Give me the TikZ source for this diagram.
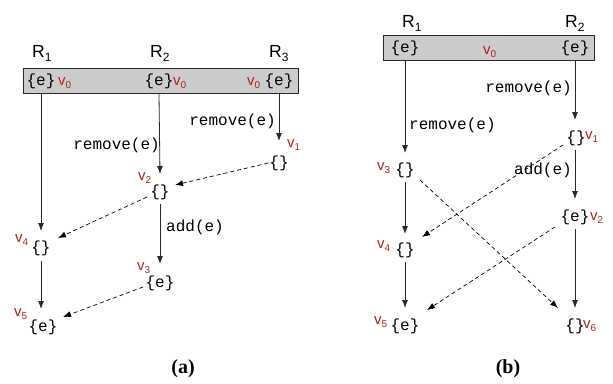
\documentclass[tikz,border=0pt]{standalone}
\usepackage{fontspec}
\setmainfont{Liberation Serif}
\setsansfont{Liberation Sans}
\setmonofont{Liberation Mono}
\usetikzlibrary{arrows.meta}
\definecolor{vred}{RGB}{175,35,30}
\definecolor{boxgray}{RGB}{204,204,204}
\definecolor{linegray}{RGB}{40,40,40}
\newcommand\mysb[1]{\raisebox{-0.4ex}{\fontsize{10}{10}\selectfont #1}}
\newcommand\myrsb[1]{\raisebox{-0.45ex}{\fontsize{12}{12}\selectfont #1}}
\begin{document}
\begin{tikzpicture}[x=1pt,y=-1pt,
  st/.style={font=\ttfamily\fontsize{16}{16}\selectfont, inner sep=1pt},
  op/.style={font=\ttfamily\fontsize{16}{16}\selectfont, inner sep=1pt},
  vl/.style={font=\sffamily\fontsize{15}{15}\selectfont, text=vred, inner sep=0pt, anchor=base west},
  rl/.style={font=\sffamily\fontsize{17.5}{17.5}\selectfont, inner sep=0pt, anchor=base west},
  captxt/.style={font=\bfseries\fontsize{20}{20}\selectfont, inner sep=0pt},
  grbox/.style={draw=linegray, fill=boxgray, line width=0.8pt},
  arr/.style={draw=linegray, -{Latex[length=8pt,width=6pt]}, line width=0.8pt},
  darr/.style={draw=black, -{Latex[length=8pt,width=6pt]}, line width=0.7pt, dash pattern=on 4pt off 3pt},
]
\path[use as bounding box] (0,0) rectangle (613,383);

% ---------------- panel (a) ----------------
\node[rl] (aR1) at (32,57) {R\myrsb{1}};
\node[rl] (aR2) at (150,57) {R\myrsb{2}};
\node[rl] (aR3) at (269,57) {R\myrsb{3}};
\node[grbox, minimum width=275pt, minimum height=25pt, inner sep=0pt] (abox) at (160.5,81) {};
\node[st] (a0a) at (41,81) {\{e\}};
\node[vl] (a0al) at (58,85) {v\mysb{0}};
\node[st] (a0b) at (159,81) {\{e\}};
\node[vl] (a0bl) at (173,85) {v\mysb{0}};
\node[vl] (a0cl) at (247,85) {v\mysb{0}};
\node[st] (a0c) at (279,81) {\{e\}};

\node[st] (a1) at (279,163) {\{\}};
\node[vl] (a1l) at (287,147) {v\mysb{1}};
\node[st] (a2) at (160,192) {\{\}};
\node[vl] (a2l) at (138,180) {v\mysb{2}};
\node[st] (a3) at (160,283) {\{e\}};
\node[vl] (a3l) at (137,270) {v\mysb{3}};
\node[st] (a4) at (41,248) {\{\}};
\node[vl] (a4l) at (15,242) {v\mysb{4}};
\node[st] (a5) at (43,327) {\{e\}};
\node[vl] (a5l) at (14,316) {v\mysb{5}};

\coordinate (a1t) at (279,141);
\coordinate (a2t) at (160,174);
\coordinate (a3t) at (160,264);
\coordinate (a4t) at (41,231);
\coordinate (a5t) at (41,309);
\coordinate (a2b) at (160,204);
\coordinate (a4b) at (41,261);

\draw[arr] (a0c |- abox.south) -- (a1t);
\node[op, anchor=east] (aop1) at (277,121) {remove(e)};
\draw[arr] (a0b.south |- abox.south) -- (a2t);
\node[op, anchor=east] (aop2) at (161,145) {remove(e)};
\draw[arr] (a0a |- abox.south) -- (a4t);
\draw[arr] (a2b) -- (a3t);
\node[op, anchor=west] (aop3) at (165,227) {add(e)};
\draw[arr] (a4b) -- (a5t);

\draw[darr] (a1.west) -- (175,185);
\draw[darr] (147,197) -- (58,238);
\draw[darr] (143,287) -- (63,317);

\node[captxt] (capa) at (183,369) {(a)};

% ---------------- panel (b) ----------------
\node[rl] (bR1) at (402,27) {R\myrsb{1}};
\node[rl] (bR2) at (565,27) {R\myrsb{2}};
\node[grbox, minimum width=211pt, minimum height=25pt, inner sep=0pt] (bbox) at (488.5,48) {};
\node[st] (b0a) at (405,48) {\{e\}};
\node[vl] (b0l) at (483,54) {v\mysb{0}};
\node[st] (b0b) at (575,48) {\{e\}};

\node[st] (b1) at (576,138) {\{\}};
\node[vl] (b1l) at (585,139) {v\mysb{1}};
\node[st] (b2) at (575,217) {\{e\}};
\node[vl] (b2l) at (590,220) {v\mysb{2}};
\node[st] (b3) at (405,170) {\{\}};
\node[vl] (b3l) at (377,170) {v\mysb{3}};
\node[st] (b4) at (405,250) {\{\}};
\node[vl] (b4l) at (377,248) {v\mysb{4}};
\node[st] (b5) at (405,326) {\{e\}};
\node[vl] (b5l) at (374,324) {v\mysb{5}};
\node[st] (b6) at (575,326) {\{\}};
\node[vl] (b6l) at (583,328) {v\mysb{6}};

\coordinate (b1t) at (575,120);
\coordinate (b2t) at (575,199);
\coordinate (b3t) at (405,153);
\coordinate (b4t) at (405,234);
\coordinate (b5t) at (405,308);
\coordinate (b6t) at (575,308);

\draw[arr] (b0a |- bbox.south) -- (b3t);
\node[op, anchor=west] (bop1) at (408,125) {remove(e)};
\draw[arr] (b0b |- bbox.south) -- (b1t);
\node[op, anchor=east] (bop2) at (573,88) {remove(e)};
\draw[arr] (575,150) -- (b2t);
\node[op, anchor=east] (bop3) at (573,170) {add(e)};
\draw[arr] (405,182) -- (b4t);
\draw[arr] (405,262) -- (b5t);
\draw[arr] (575,229) -- (b6t);

\draw[darr] (563,145) -- (422,237);
\draw[darr] (420,180) -- (558,308);
\draw[darr] (555,227) -- (427,310);

\node[captxt] (capb) at (508,369) {(b)};
\end{tikzpicture}
\end{document}
